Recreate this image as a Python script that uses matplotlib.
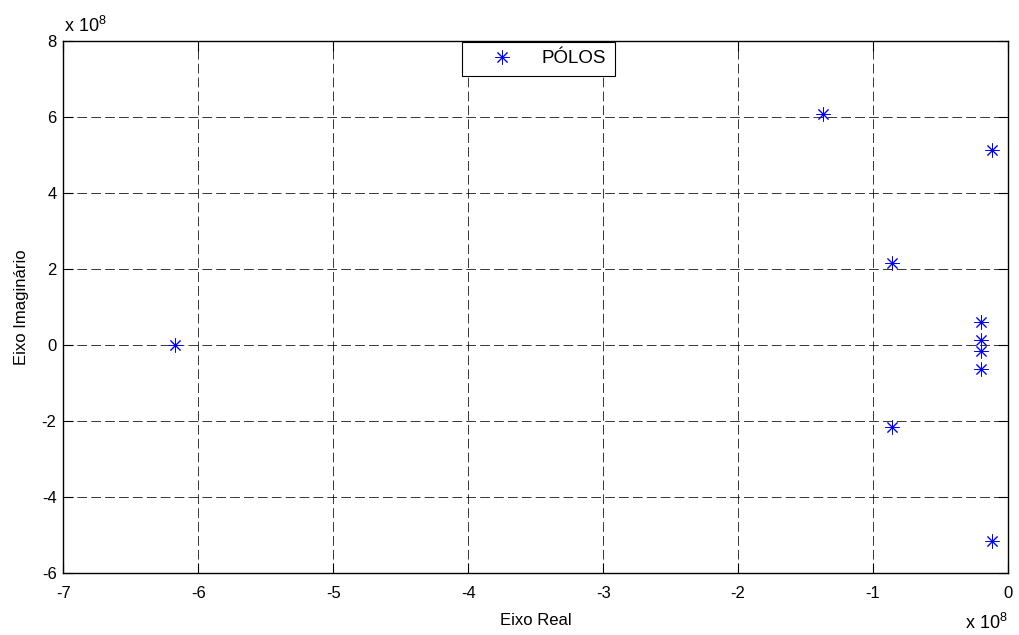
import matplotlib
matplotlib.use("Agg")
import matplotlib.pyplot as plt
from matplotlib.ticker import FuncFormatter

plt.rcParams['font.family'] = ['Liberation Sans', 'DejaVu Sans']
plt.rcParams['lines.scale_dashes'] = False
plt.rcParams['mathtext.fontset'] = 'custom'
plt.rcParams['mathtext.rm'] = 'Liberation Sans'

# Pole locations (real, imaginary), in rad/s
real_part = [-6.17e8, -1.37e8, -0.86e8, -0.86e8, -0.12e8, -0.12e8,
             -0.20e8, -0.20e8, -0.20e8, -0.20e8]
imag_part = [0.0, 6.07e8, 2.15e8, -2.15e8, 5.13e8, -5.16e8,
             0.60e8, 0.13e8, -0.16e8, -0.63e8]

x_ticks = [-7e8, -6e8, -5e8, -4e8, -3e8, -2e8, -1e8, 0]
y_ticks = [-6e8, -4e8, -2e8, 0, 2e8, 4e8, 6e8, 8e8]
scale = 1e8

fig = plt.figure(figsize=(10.19, 6.35), dpi=100)
ax = fig.add_axes([0.0623, 0.0976, 0.9269, 0.8378])

ax.plot(real_part, imag_part, linestyle='none', marker=(8, 2, 0),
        markersize=10, markeredgewidth=0.7, color=(0, 0, 1), label='PÓLOS')

ax.set_xlim(-7e8, 0)
ax.set_ylim(-6e8, 8e8)
ax.set_xticks(x_ticks)
ax.set_yticks(y_ticks)
fmt = FuncFormatter(lambda v, pos: f"{v / scale:g}")
ax.xaxis.set_major_formatter(fmt)
ax.yaxis.set_major_formatter(fmt)

ax.grid(True, color='black', linestyle=(0, (7, 3)), linewidth=0.55)
ax.tick_params(direction='in', top=True, right=True, length=7, width=0.8,
               labelsize=12)
ax.tick_params(axis='x', pad=9)
ax.tick_params(axis='y', pad=5)
for s in ax.spines.values():
    s.set_linewidth(1.0)

ax.set_xlabel('Eixo Real', fontsize=12, labelpad=9)
ax.set_ylabel('Eixo Imaginário', fontsize=12, labelpad=9)

ax.text(1.0, -0.075, r'x $\mathrm{10}^{\mathrm{8}}$', transform=ax.transAxes,
        fontsize=13, ha='right', va='top')
ax.text(0.001, 1.01, r'x $\mathrm{10}^{\mathrm{8}}$', transform=ax.transAxes,
        fontsize=13, ha='left', va='bottom')

leg = ax.legend(loc='upper center', bbox_to_anchor=(0.5029, 0.998),
                borderaxespad=0, fontsize=13.5, fancybox=False, framealpha=1,
                edgecolor='black', handlelength=3.4, handletextpad=0.4,
                borderpad=0.44)
leg.get_frame().set_linewidth(0.8)

fig.savefig('out.png', dpi=100)
